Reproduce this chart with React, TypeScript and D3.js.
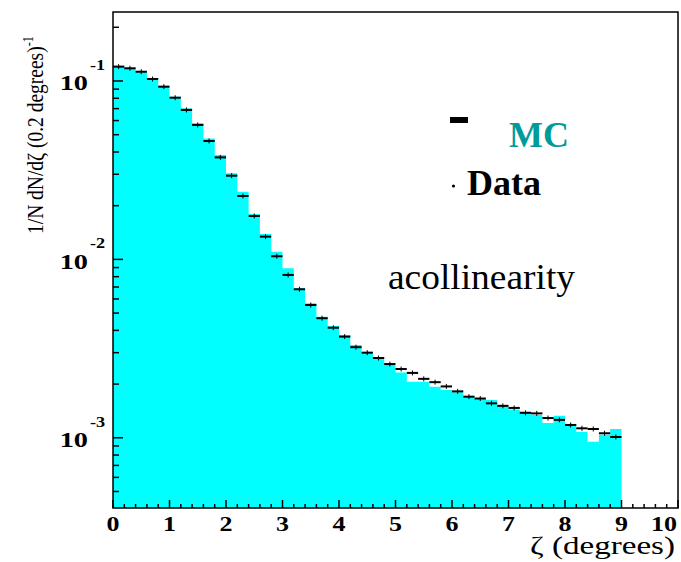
import React, { useRef, useEffect } from 'react';
import * as d3 from 'd3';

// acollinearity histogram, 0.2 degree bins from 0 to 9
const binWidth = 0.2;

const mcValues = [
  0.1218, 0.1188, 0.1138, 0.1035, 0.0941, 0.0817, 0.0703, 0.0579, 0.0476, 0.0385,
  0.0304, 0.02395, 0.01796, 0.01388, 0.01104, 0.00891, 0.00689, 0.00567, 0.00477, 0.00423,
  0.00377, 0.00331, 0.00299, 0.00284, 0.00256, 0.00232, 0.00206, 0.00206, 0.00193, 0.00185,
  0.0018, 0.0017, 0.00165, 0.00163, 0.00151, 0.00144, 0.0014, 0.00134, 0.00121, 0.00133,
  0.00118, 0.00108, 0.00095, 0.00104, 0.00112,
];

const dataValues = [
  0.1203, 0.1178, 0.1127, 0.1026, 0.0929, 0.0806, 0.0688, 0.0567, 0.0461, 0.0373,
  0.02945, 0.02266, 0.01751, 0.01341, 0.01041, 0.00818, 0.0068, 0.00555, 0.00468, 0.00414,
  0.00369, 0.00322, 0.003, 0.0028, 0.00259, 0.00243, 0.00231, 0.00214, 0.00205, 0.00194,
  0.00182, 0.0017, 0.00166, 0.00156, 0.00151, 0.00147, 0.00138, 0.00137, 0.00129, 0.00126,
  0.00118, 0.00113, 0.00112, 0.00106, 0.00101,
];

const xTicks = [0, 1, 2, 3, 4, 5, 6, 7, 8, 9, 10];
const yDecades = [1e-3, 1e-2, 1e-1];
const yExponents = ['-3', '-2', '-1'];

const serif = 'Liberation Serif';

export default function App() {
  const svgRef = useRef<SVGSVGElement>(null);
  const width = 681;
  const height = 562;
  const left = 113, right = 678, top = 12, bottom = 508;

  useEffect(() => {
    const svg = d3.select(svgRef.current);
    svg.selectAll('*').remove();

    const x = d3.scaleLinear().domain([0, 10]).range([left, right]);
    const y = d3.scaleLog().domain([4.04e-4, 0.2436]).range([bottom, top]);

    svg.append('rect').attr('width', width).attr('height', height).attr('fill', '#fff');

    // MC histogram as one stepped area (no seams between bins)
    const steps = mcValues.map((v, i) => ({ x: i * binWidth, v }));
    steps.push({ x: mcValues.length * binWidth, v: mcValues[mcValues.length - 1] });
    const area = d3.area<{ x: number; v: number }>()
      .x(d => x(d.x))
      .y0(bottom)
      .y1(d => y(d.v))
      .curve(d3.curveStepAfter);
    svg.append('path')
      .attr('d', area(steps))
      .attr('fill', '#00ffff');

    // data points
    const pts = svg.append('g').attr('stroke', '#000');
    pts.selectAll('line.h')
      .data(dataValues)
      .join('line')
      .attr('class', 'h')
      .attr('x1', (d, i) => x(i * binWidth))
      .attr('x2', (d, i) => x((i + 1) * binWidth))
      .attr('y1', d => y(d))
      .attr('y2', d => y(d))
      .attr('stroke-width', 2);
    pts.selectAll('line.v')
      .data(dataValues)
      .join('line')
      .attr('class', 'v')
      .attr('x1', (d, i) => x((i + 0.5) * binWidth))
      .attr('x2', (d, i) => x((i + 0.5) * binWidth))
      .attr('y1', d => y(d) - 2.5)
      .attr('y2', d => y(d) + 2.5)
      .attr('stroke-width', 1);

    // frame
    svg.append('rect')
      .attr('x', left).attr('y', top)
      .attr('width', right - left).attr('height', bottom - top)
      .attr('fill', 'none').attr('stroke', '#000').attr('stroke-width', 1.5);

    // x ticks every 0.2
    const xt = d3.range(0, 51).map(k => k / 5);
    svg.append('g')
      .selectAll('line')
      .data(xt)
      .join('line')
      .attr('x1', d => x(d)).attr('x2', d => x(d))
      .attr('y1', bottom)
      .attr('y2', (d, i) => bottom - (i % 5 === 0 ? 8 : 4))
      .attr('stroke', '#000').attr('stroke-width', 1.5);

    svg.append('g')
      .attr('font-family', serif)
      .attr('font-weight', 'bold')
      .attr('font-size', 20)
      .selectAll('text')
      .data(xTicks)
      .join('text')
      .attr('transform', d => `translate(${d === 10 ? x(d) - 1 : x(d)},531) scale(1.3,1)`)
      .attr('text-anchor', d => (d === 10 ? 'end' : 'middle'))
      .text(d => d);

    // y ticks: decades and 2..9 minors
    const yMinor: number[] = [];
    [-4, -3, -2, -1].forEach(e => {
      for (let m = 2; m <= 9; m++) {
        const v = m * Math.pow(10, e);
        if (v > 4.04e-4 && v < 0.2436) yMinor.push(v);
      }
    });
    svg.append('g')
      .selectAll('line')
      .data(yMinor)
      .join('line')
      .attr('x1', left).attr('x2', left + 6)
      .attr('y1', d => y(d)).attr('y2', d => y(d))
      .attr('stroke', '#000').attr('stroke-width', 1.5);
    svg.append('g')
      .selectAll('line')
      .data(yDecades)
      .join('line')
      .attr('x1', left).attr('x2', left + 10)
      .attr('y1', d => y(d)).attr('y2', d => y(d))
      .attr('stroke', '#000').attr('stroke-width', 1.5);

    const yl = svg.append('g')
      .attr('font-family', serif)
      .attr('font-weight', 'bold');
    yl.selectAll('text.base')
      .data(yDecades)
      .join('text')
      .attr('class', 'base')
      .attr('transform', d => `translate(88,${y(d) + 9.5}) scale(1.35,1)`)
      .attr('text-anchor', 'end')
      .attr('font-size', 21)
      .text('10');
    yl.selectAll('text.exp')
      .data(yDecades)
      .join('text')
      .attr('class', 'exp')
      .attr('transform', d => `translate(90,${y(d) - 11}) scale(1.3,1)`)
      .attr('font-size', 14)
      .text((d, i) => yExponents[i]);

    // axis titles
    const yTitle = svg.append('text')
      .attr('transform', 'translate(43,234) scale(1.2,1) rotate(-90)')
      .attr('font-family', serif)
      .attr('font-size', 19.5);
    yTitle.append('tspan').text('1/N dN/dζ (0.2 degrees)');
    yTitle.append('tspan').attr('dy', -8).attr('font-size', 12).text('-1');

    svg.append('text')
      .attr('x', 675).attr('y', 554)
      .attr('text-anchor', 'end')
      .attr('font-family', serif)
      .attr('font-size', 26)
      .attr('textLength', 145)
      .attr('lengthAdjust', 'spacingAndGlyphs')
      .text('ζ (degrees)');

    // legend / annotations
    svg.append('rect')
      .attr('x', 450).attr('y', 117).attr('width', 18).attr('height', 6)
      .attr('fill', '#000');
    svg.append('text')
      .attr('x', 509).attr('y', 147)
      .attr('font-family', serif)
      .attr('font-weight', 'bold').attr('font-size', 36)
      .attr('fill', '#009a9a')
      .text('MC');
    svg.append('circle')
      .attr('cx', 453.5).attr('cy', 186).attr('r', 1.6)
      .attr('fill', '#000');
    svg.append('text')
      .attr('x', 467).attr('y', 195)
      .attr('font-family', serif)
      .attr('font-weight', 'bold').attr('font-size', 36)
      .attr('fill', '#000')
      .text('Data');
    svg.append('text')
      .attr('x', 388).attr('y', 289)
      .attr('font-family', serif)
      .attr('font-size', 36)
      .attr('textLength', 187)
      .attr('lengthAdjust', 'spacingAndGlyphs')
      .text('acollinearity');
  }, []);

  return (
    <svg
      ref={svgRef}
      width={width}
      height={height}
      style={{ position: 'absolute', left: 0, top: 0, display: 'block' }}
    />
  );
}
